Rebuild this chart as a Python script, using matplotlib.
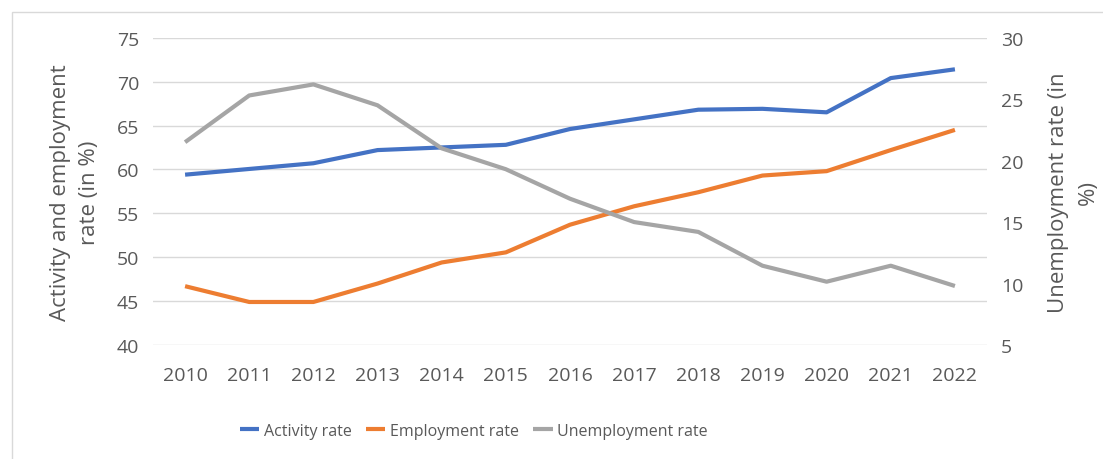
"""Activity, employment and unemployment rates, 2010-2022."""
import matplotlib
matplotlib.use("Agg")
import matplotlib.pyplot as plt
from matplotlib.patches import Rectangle

years = ["2010", "2011", "2012", "2013", "2014", "2015", "2016",
         "2017", "2018", "2019", "2020", "2021", "2022"]
activity_rate = [59.4, 60.05, 60.7, 62.2, 62.5, 62.8, 64.6, 65.7, 66.8, 66.9, 66.5, 70.4, 71.4]
employment_rate = [46.7, 44.9, 44.9, 47.0, 49.4, 50.55, 53.7, 55.8, 57.4, 59.3, 59.8, 62.2, 64.5]
unemployment_rate = [21.5, 25.3, 26.2, 24.5, 21.0, 19.3, 16.9, 15.0, 14.2, 11.45, 10.15, 11.45, 9.8]

TEXT = "#595959"
plt.rcParams["font.family"] = ["Open Sans", "DejaVu Sans"]

W, H = 1103, 460
fig = plt.figure(figsize=(W / 100, H / 100), dpi=100)
fig.patches.append(Rectangle((12 / W, -0.1), 1.2, 1 - 13 / H + 0.1, transform=fig.transFigure,
                             fill=False, edgecolor="#D9D9D9", linewidth=1))

ax = fig.add_axes([153 / W, (H - 346) / H, (987 - 153) / W, (346 - 38.7) / H])
ax2 = ax.twinx()
x = list(range(len(years)))

l1, = ax.plot(x, activity_rate, color="#4472C4", lw=3, solid_capstyle="butt", label="Activity rate")
l2, = ax.plot(x, employment_rate, color="#ED7D31", lw=3, solid_capstyle="butt", label="Employment rate")
l3, = ax2.plot(x, unemployment_rate, color="#A5A5A5", lw=3, solid_capstyle="butt", label="Unemployment rate")

ax.set_ylim(40, 75)
ax.set_yticks(range(40, 76, 5))
ax2.set_ylim(5, 30)
ax2.set_yticks(range(5, 31, 5))
ax.set_xlim(-0.5, len(years) - 0.5)
ax.set_xticks(x)
ax.set_xticklabels(years)
ax.grid(axis="y", color="#D9D9D9", lw=1)
ax.set_axisbelow(True)

for a in (ax, ax2):
    for s in a.spines.values():
        s.set_visible(False)
    a.tick_params(length=0, labelsize=14, colors=TEXT)
ax.tick_params(axis="y", pad=10)
ax.tick_params(axis="x", pad=15)
ax2.tick_params(axis="y", pad=10)

ax.set_ylabel("Activity and employment\nrate (in %)", fontsize=16, color=TEXT, labelpad=12,
              linespacing=1.5)
ax2.set_ylabel("Unemployment rate (in\n%)", fontsize=16, color=TEXT, labelpad=18,
               linespacing=1.5)

fig.legend(handles=[l1, l2, l3], loc="center", bbox_to_anchor=(474 / W, 1 - 432 / H),
           ncol=3, frameon=False, fontsize=11.5, labelcolor=TEXT, handlelength=1.2,
           handletextpad=0.3, columnspacing=0.9)

fig.savefig("out.png", dpi=100)
